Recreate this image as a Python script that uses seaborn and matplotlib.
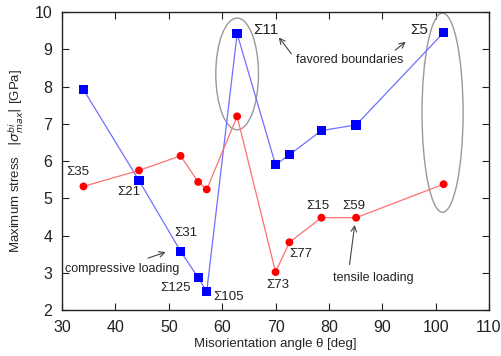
"""
Maximum bicrystal stress vs misorientation angle for compressive and tensile loading.
"""
import matplotlib
matplotlib.use('Agg')
import matplotlib.pyplot as plt
from matplotlib.patches import Ellipse
import seaborn as sns
import pandas as pd

# Data
angle = [34.0, 44.4, 52.2, 55.5, 57.1, 62.8, 70.0, 72.6, 78.6, 85.1, 101.5]
compressive = [7.92, 5.48, 3.58, 2.87, 2.50, 9.42, 5.90, 6.17, 6.82, 6.97, 9.45]
tensile = [5.32, 5.75, 6.14, 5.44, 5.24, 7.20, 3.02, 3.82, 4.48, 4.48, 5.38]

sigma_labels = ['Σ35', 'Σ21', 'Σ31', 'Σ125', 'Σ105', 'Σ73', 'Σ77', 'Σ15', 'Σ59']
sigma_x = [30.8, 40.3, 51.0, 48.4, 58.3, 68.2, 72.5, 75.7, 82.5]
sigma_y = [5.70, 5.17, 4.07, 2.59, 2.35, 2.67, 3.50, 4.79, 4.79]

df = pd.DataFrame({'angle': angle, 'compressive': compressive, 'tensile': tensile})

sns.set_style('ticks')
plt.rcParams['font.family'] = ['Liberation Sans', 'DejaVu Sans']

fig = plt.figure(figsize=(5.01, 3.56), dpi=100)
ax = fig.add_axes([0.124, 0.129, 0.852, 0.837])

# lines (thin, light) then markers on top
sns.lineplot(data=df, x='angle', y='compressive', sort=False, color='#7070ff', lw=0.9, ax=ax)
sns.lineplot(data=df, x='angle', y='tensile', sort=False, color='#ff7070', lw=0.9, ax=ax)
sns.scatterplot(data=df, x='angle', y='compressive', marker='s', color='#0000ff', s=45,
                edgecolor='none', ax=ax, zorder=3)
sns.scatterplot(data=df, x='angle', y='tensile', marker='o', color='#ff0000', s=32,
                edgecolor='none', ax=ax, zorder=3)

ax.set_xlim(30, 110)
ax.set_ylim(2, 10)
ax.set_xticks(range(30, 111, 10))
ax.set_yticks(range(2, 11))
ax.tick_params(direction='in', top=True, right=True, length=5, labelsize=11.5,
               colors='#222222', pad=7)
for s in ax.spines.values():
    s.set_linewidth(1.0)
    s.set_color('#222222')

ax.set_xlabel('Misorientation angle θ [deg]', fontsize=9.5, labelpad=2)
ax.set_ylabel(r'Maximum stress   $|\sigma^{bi}_{max}|$ [GPa]', fontsize=9.5, labelpad=6)

# circled favored boundaries
ax.add_patch(Ellipse((62.8, 8.34), 8.0, 3.0, fill=False, ec='#999999', lw=1.0, clip_on=False))
ax.add_patch(Ellipse((101.3, 7.30), 7.7, 5.35, fill=False, ec='#999999', lw=1.0, clip_on=False))

for lab, x, y in zip(sigma_labels, sigma_x, sigma_y):
    ax.text(x, y, lab, fontsize=9.5, ha='left', va='center', color='#222222')
ax.text(65.8, 9.52, 'Σ11', fontsize=11, ha='left', va='center', color='#222222')
ax.text(95.2, 9.52, 'Σ5', fontsize=11, ha='left', va='center', color='#222222')

ax.text(73.8, 8.71, 'favored boundaries', fontsize=9, ha='left', va='center', color='#222222')
ax.text(30.6, 3.10, 'compressive loading', fontsize=9, ha='left', va='center', color='#222222')
ax.text(80.8, 2.86, 'tensile loading', fontsize=9, ha='left', va='center', color='#222222')

arrow = dict(arrowstyle='->', color='#444444', lw=0.8)
ax.annotate('', xy=(70.3, 9.38), xytext=(73.3, 8.82), arrowprops=arrow)
ax.annotate('', xy=(94.8, 9.25), xytext=(92.0, 8.93), arrowprops=arrow)
ax.annotate('', xy=(49.9, 3.58), xytext=(45.6, 3.37), arrowprops=arrow)
ax.annotate('', xy=(84.9, 4.36), xytext=(83.8, 3.15), arrowprops=arrow)

fig.savefig('out.png', dpi=100)
